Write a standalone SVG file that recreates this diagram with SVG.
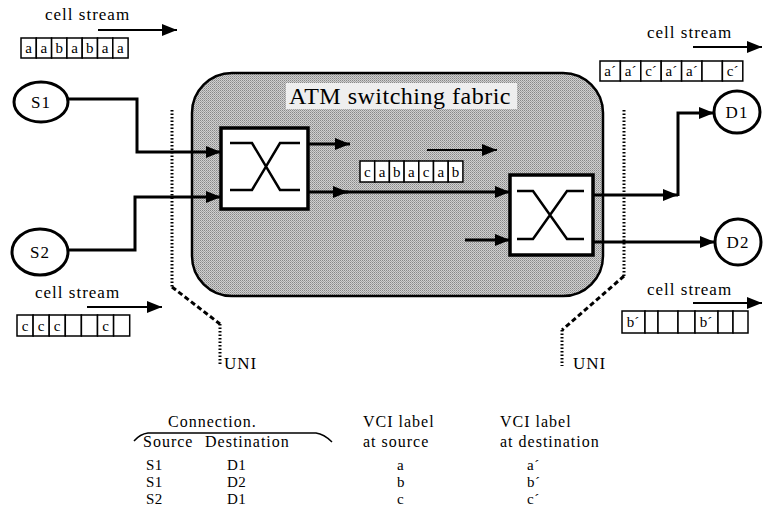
<svg xmlns="http://www.w3.org/2000/svg" width="763" height="528" viewBox="0 0 763 528">
<style>
  text { font-family: "Liberation Serif", "Times New Roman", serif; fill: #000; }
  .lbl { font-size: 17px; letter-spacing: 1px; }
  .th { font-size: 16px; letter-spacing: 1px; }
  .tr { font-size: 15px; letter-spacing: 0.5px; }
  .cell { font-size: 15px; text-anchor: middle; }
  .node { fill: #fff; stroke: #000; stroke-width: 3; }
  .sw { fill: #fff; stroke: #000; stroke-width: 3.5; }
  .x { fill: none; stroke: #000; stroke-width: 2.5; }
  .con { fill: none; stroke: #000; stroke-width: 3; }
  .thin { fill: none; stroke: #000; stroke-width: 2; }
  .dot { fill: none; stroke: #000; stroke-width: 3; stroke-dasharray: 1.5 2; }
  .dash { fill: none; stroke: #000; stroke-width: 3; stroke-dasharray: 5 3; }
  .cb { fill: #fff; stroke: #000; stroke-width: 1.5; }
</style>
<defs>
  <marker id="ah" markerUnits="userSpaceOnUse" markerWidth="16" markerHeight="12" refX="15" refY="6" orient="auto">
    <path d="M0,0 L15,6 L0,12 z" fill="#000"/>
  </marker>
  <marker id="ahs" markerUnits="userSpaceOnUse" markerWidth="16" markerHeight="12" refX="15" refY="6" orient="auto">
    <path d="M0,0 L15,6 L0,12 z" fill="#000"/>
  </marker>
  <pattern id="stip" width="2" height="2" patternUnits="userSpaceOnUse">
    <rect width="2" height="2" fill="#d0d0d0"/>
    <rect width="1" height="1" fill="#888"/>
    <rect x="1" y="1" width="1" height="1" fill="#a4a4a4"/>
  </pattern>
</defs>

<g id="fabric">
  <rect x="192" y="73" width="411" height="223" rx="40" ry="40" fill="url(#stip)" stroke="#000" stroke-width="2.5"/>
  <rect x="286" y="83" width="231" height="26" fill="#eeeeee"/>
  <text x="289" y="104" style="font-size:24px" letter-spacing="0.5">ATM switching fabric</text>
</g>

<g id="uni-left">
  <path class="dot" d="M172,110 V287"/>
  <path class="dash" d="M172,287 L220,324"/>
  <path class="dot" d="M220,324 V366"/>
  <text class="lbl" x="224" y="369">UNI</text>
</g>
<g id="uni-right">
  <path class="dot" d="M624,110 V276"/>
  <path class="dash" d="M624,276 L562,330"/>
  <path class="dot" d="M562,330 V366"/>
  <text class="lbl" x="573" y="369">UNI</text>
</g>

<g id="connectors">
  <path class="con" d="M68,99 H137 V152 H221" marker-end="url(#ah)"/>
  <path class="con" d="M68,250 H135 V197 H221" marker-end="url(#ah)"/>
  <path class="con" d="M308,144 H350" marker-end="url(#ah)"/>
  <path class="con" d="M308,192 H348" marker-end="url(#ah)"/>
  <path class="con" d="M340,192 H510" marker-end="url(#ah)"/>
  <path class="con" d="M465,240 H510" marker-end="url(#ah)"/>
  <path class="thin" d="M427,150 H497" marker-end="url(#ahs)"/>
  <path class="con" d="M593,195 H678" marker-end="url(#ah)"/>
  <path class="con" d="M678,196 V113 H714" marker-end="url(#ah)"/>
  <path class="con" d="M593,242 H715" marker-end="url(#ah)"/>
</g>

<g id="S1">
  <ellipse class="node" cx="41" cy="102" rx="27" ry="20"/>
  <text class="lbl" x="41" y="108" text-anchor="middle" letter-spacing="0">S1</text>
</g>
<g id="S2">
  <ellipse class="node" cx="40" cy="252" rx="28" ry="23"/>
  <text class="lbl" x="40" y="258" text-anchor="middle" letter-spacing="0">S2</text>
</g>
<g id="D1">
  <ellipse class="node" cx="737" cy="112" rx="23" ry="21"/>
  <text class="lbl" x="737" y="118" text-anchor="middle" letter-spacing="0">D1</text>
</g>
<g id="D2">
  <ellipse class="node" cx="738" cy="242" rx="23" ry="23"/>
  <text class="lbl" x="738" y="248" text-anchor="middle" letter-spacing="0">D2</text>
</g>

<g id="switch1">
  <rect class="sw" x="221" y="128" width="87" height="81"/>
  <path class="x" d="M230,143 H252 L280,190 H300 M230,190 H252 L280,143 H300"/>
</g>
<g id="switch2">
  <rect class="sw" x="510" y="175" width="83" height="80"/>
  <path class="x" d="M517,191 H533 L567,239 H584 M517,239 H533 L567,191 H584"/>
</g>

<g id="stream-s1">
  <text class="lbl" x="45" y="20">cell stream</text>
  <path class="thin" d="M98,30 H177" marker-end="url(#ahs)"/>
  <rect class="cb" x="21" y="38" width="15.3" height="20"/>
  <rect class="cb" x="36.3" y="38" width="15.3" height="20"/>
  <rect class="cb" x="51.6" y="38" width="15.3" height="20"/>
  <rect class="cb" x="66.9" y="38" width="15.3" height="20"/>
  <rect class="cb" x="82.2" y="38" width="15.3" height="20"/>
  <rect class="cb" x="97.5" y="38" width="15.3" height="20"/>
  <rect class="cb" x="112.8" y="38" width="15.3" height="20"/>
  <text class="cell" x="28.6" y="53">a</text>
  <text class="cell" x="43.9" y="53">a</text>
  <text class="cell" x="59.2" y="53">b</text>
  <text class="cell" x="74.5" y="53">a</text>
  <text class="cell" x="89.8" y="53">b</text>
  <text class="cell" x="105.1" y="53">a</text>
  <text class="cell" x="120.4" y="53">a</text>
</g>

<g id="stream-s2">
  <text class="lbl" x="35" y="298">cell stream</text>
  <path class="thin" d="M87,307 H162" marker-end="url(#ahs)"/>
  <rect class="cb" x="17" y="315" width="16.1" height="21"/>
  <rect class="cb" x="33.1" y="315" width="16.1" height="21"/>
  <rect class="cb" x="49.2" y="315" width="16.1" height="21"/>
  <rect class="cb" x="65.3" y="315" width="16.1" height="21"/>
  <rect class="cb" x="81.4" y="315" width="16.1" height="21"/>
  <rect class="cb" x="97.5" y="315" width="16.1" height="21"/>
  <rect class="cb" x="113.6" y="315" width="16.1" height="21"/>
  <text class="cell" x="25" y="331">c</text>
  <text class="cell" x="41.1" y="331">c</text>
  <text class="cell" x="57.2" y="331">c</text>
  <text class="cell" x="105.5" y="331">c</text>
</g>

<g id="stream-mid">
  <rect class="cb" x="360" y="161" width="14.7" height="21"/>
  <rect class="cb" x="374.7" y="161" width="14.7" height="21"/>
  <rect class="cb" x="389.4" y="161" width="14.7" height="21"/>
  <rect class="cb" x="404.1" y="161" width="14.7" height="21"/>
  <rect class="cb" x="418.8" y="161" width="14.7" height="21"/>
  <rect class="cb" x="433.5" y="161" width="14.7" height="21"/>
  <rect class="cb" x="448.2" y="161" width="14.7" height="21"/>
  <text class="cell" x="367.3" y="177">c</text>
  <text class="cell" x="382" y="177">a</text>
  <text class="cell" x="396.7" y="177">b</text>
  <text class="cell" x="411.4" y="177">a</text>
  <text class="cell" x="426.1" y="177">c</text>
  <text class="cell" x="440.8" y="177">a</text>
  <text class="cell" x="455.5" y="177">b</text>
</g>

<g id="stream-d1">
  <text class="lbl" x="647" y="38">cell stream</text>
  <path class="thin" d="M693,47 H762" marker-end="url(#ahs)"/>
  <rect class="cb" x="600" y="61" width="20.4" height="20"/>
  <rect class="cb" x="620.4" y="61" width="20.4" height="20"/>
  <rect class="cb" x="640.8" y="61" width="20.4" height="20"/>
  <rect class="cb" x="661.2" y="61" width="20.4" height="20"/>
  <rect class="cb" x="681.6" y="61" width="20.4" height="20"/>
  <rect class="cb" x="702" y="61" width="20.4" height="20"/>
  <rect class="cb" x="722.4" y="61" width="20.4" height="20"/>
  <text class="cell" x="610.2" y="76">a´</text>
  <text class="cell" x="630.6" y="76">a´</text>
  <text class="cell" x="651" y="76">c´</text>
  <text class="cell" x="671.4" y="76">a´</text>
  <text class="cell" x="691.8" y="76">a´</text>
  <text class="cell" x="732.6" y="76">c´</text>
</g>

<g id="stream-d2">
  <text class="lbl" x="647" y="295">cell stream</text>
  <path class="thin" d="M693,303 H762" marker-end="url(#ahs)"/>
  <rect class="cb" x="622" y="311" width="23" height="22"/>
  <rect class="cb" x="645" y="311" width="13" height="22"/>
  <rect class="cb" x="658" y="311" width="20" height="22"/>
  <rect class="cb" x="678" y="311" width="17" height="22"/>
  <rect class="cb" x="695" y="311" width="23" height="22"/>
  <rect class="cb" x="718" y="311" width="15" height="22"/>
  <rect class="cb" x="733" y="311" width="15" height="22"/>
  <text class="cell" x="633" y="327">b´</text>
  <text class="cell" x="706" y="327">b´</text>
</g>

<g id="table">
  <text class="th" x="168" y="427">Connection.</text>
  <path fill="none" stroke="#000" stroke-width="1.5" d="M134,441 Q140,434 148,433 H316 Q324,434 332,442"/>
  <text class="th" x="143" y="447">Source</text>
  <text class="th" x="205" y="447">Destination</text>
  <text class="th" x="363" y="427">VCI label</text>
  <text class="th" x="363" y="447">at source</text>
  <text class="th" x="500" y="427">VCI label</text>
  <text class="th" x="500" y="447">at destination</text>
  <text class="tr" x="146" y="470">S1</text>
  <text class="tr" x="227" y="470">D1</text>
  <text class="tr" x="397" y="470">a</text>
  <text class="tr" x="527" y="470">a´</text>
  <text class="tr" x="146" y="487">S1</text>
  <text class="tr" x="227" y="487">D2</text>
  <text class="tr" x="397" y="487">b</text>
  <text class="tr" x="527" y="487">b´</text>
  <text class="tr" x="146" y="504">S2</text>
  <text class="tr" x="227" y="504">D1</text>
  <text class="tr" x="397" y="504">c</text>
  <text class="tr" x="527" y="504">c´</text>
</g>
</svg>
